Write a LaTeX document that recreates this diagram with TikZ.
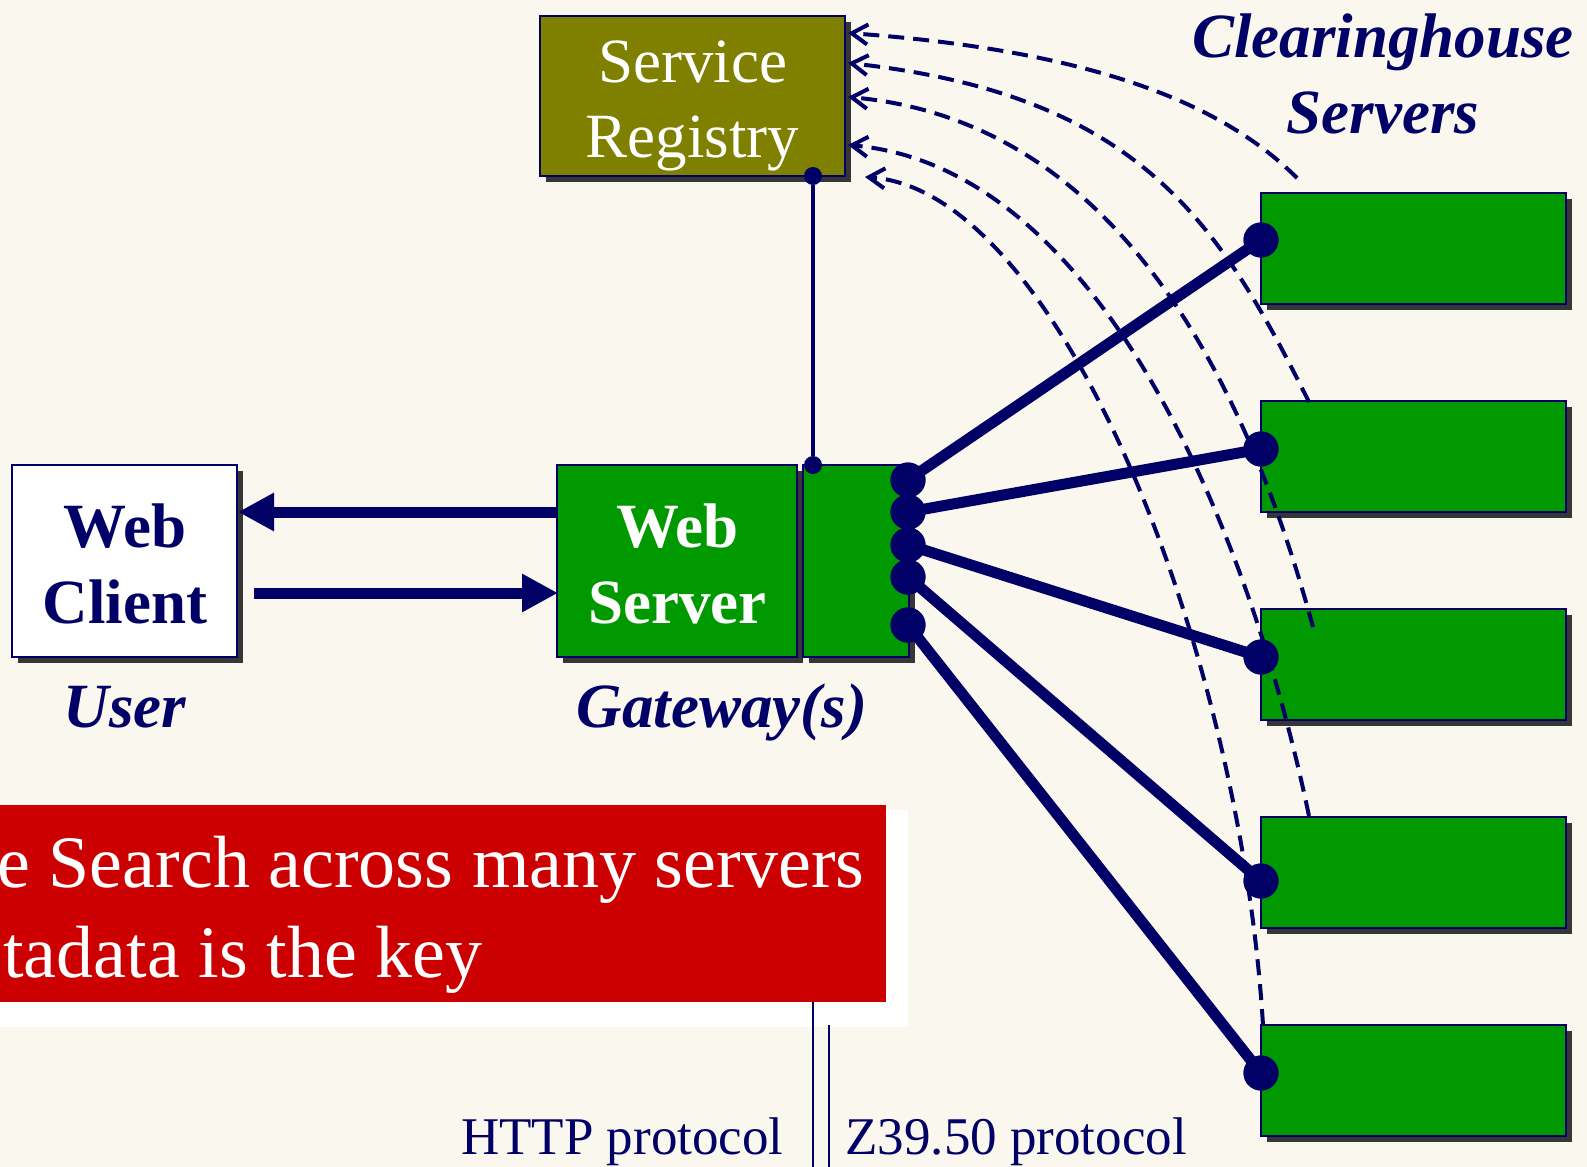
\documentclass[tikz,border=0pt]{standalone}
\usepackage{fontspec}
\setmainfont{Liberation Serif}
\usetikzlibrary{arrows.meta,shadows}

\definecolor{paper}{HTML}{F9F7EE}
\definecolor{navy}{HTML}{000066}
\definecolor{regolive}{HTML}{808000}
\definecolor{srvgreen}{HTML}{009900}
\definecolor{bannerred}{HTML}{CC0000}
\definecolor{shade}{HTML}{363636}

\begin{document}
\begin{tikzpicture}[x=0.5pt,y=-0.5pt,
  box/.style={draw=navy, line width=1pt, inner sep=0pt,
    drop shadow={shadow xshift=3pt, shadow yshift=-3pt, fill=shade, opacity=1}},
  regbox/.style={box, fill=regolive, minimum width=152.5pt, minimum height=80pt},
  clientbox/.style={box, fill=white, minimum width=112.5pt, minimum height=96pt},
  srvbox/.style={box, fill=srvgreen, minimum width=152.5pt, minimum height=55.5pt},
  bigdot/.style={circle, fill=navy, inner sep=0pt, minimum size=17.5pt},
  pin/.style={circle, fill=navy, inner sep=0pt, minimum size=9pt},
  link/.style={draw=navy, line width=5.5pt},
  flow/.style={draw=navy, line width=5.5pt, -{Triangle[length=18pt,width=18pt]}},
  lookup/.style={draw=navy, line width=2pt, dash pattern=on 8pt off 4.5pt,
    -{Straight Barb[length=8pt,width=10pt]}},
  boxtext/.style={anchor=base, inner sep=0pt, text=white,
    font={\fontsize{31.5}{37}\selectfont}},
  boldtext/.style={boxtext, font={\fontsize{31.5}{37}\selectfont\bfseries}},
  caption/.style={anchor=base, inner sep=0pt, text=navy,
    font={\fontsize{31.5}{37}\selectfont\bfseries\itshape}},
  bannertext/.style={anchor=base west, inner sep=0pt, text=white,
    font={\fontsize{37}{44}\selectfont}},
  protocol/.style={inner sep=0pt, text=navy, font={\fontsize{26.5}{32}\selectfont}}
]
% canvas
\useasboundingbox (0,0) rectangle (1587,1167);
\fill[paper] (0,0) rectangle (1587,1167);

% banner panel with its white backing
\fill[white] (-5,810) rectangle (908,1027);
\coordinate (div1top) at (813,1002);
\coordinate (div1bot) at (813,1167);
\coordinate (div2top) at (829,1025);
\coordinate (div2bot) at (829,1167);
\draw[navy, line width=1pt] (div1top) -- (div1bot);
\draw[navy, line width=1pt] (div2top) -- (div2bot);
\fill[bannerred] (-5,805) rectangle (886,1002);
\node[bannertext] (ban1) at (-3,887) {e Search across many servers};
\node[bannertext] (ban2) at (3,977) {tadata is the key};

% boxes
\node[regbox] (reg) at (692.5,96) {};
\node[clientbox] (wc) at (124.5,561) {};
\node[box, fill=srvgreen, minimum width=120pt, minimum height=96pt] (ws) at (677,561) {};
\node[box, fill=srvgreen, minimum width=53pt, minimum height=96pt] (gw) at (856,561) {};
\node[srvbox] (s1) at (1413.5,248.5) {};
\node[srvbox] (s2) at (1413.5,456.5) {};
\node[srvbox] (s3) at (1413.5,664.5) {};
\node[srvbox] (s4) at (1413.5,872.5) {};
\node[srvbox] (s5) at (1413.5,1080.5) {};

% registry lookups, from each clearinghouse server back to the registry
\coordinate (t1) at (848,33);
\coordinate (t2) at (848,63);
\coordinate (t3) at (848,97);
\coordinate (t4) at (848,145);
\coordinate (t5) at (865,177);
\coordinate (e1) at (1297,178);
\coordinate (e2) at (1309,402);
\coordinate (e3) at (1313,627);
\coordinate (e4) at (1309,816);
\coordinate (e5) at (1263,1025);
\draw[lookup] (e1) .. controls (1217,98) and (1080,50) .. (t1);
\draw[lookup] (e2) .. controls (1219,222) and (1140,95) .. (t2);
\draw[lookup] (e3) .. controls (1253,407) and (1130,122) .. (t3);
\draw[lookup] (e4) .. controls (1255,556) and (1110,168) .. (t4);
\draw[lookup] (e5) .. controls (1240,650) and (1060,190) .. (t5);

% registry to gateway
\node[pin] (rpin) at (813,176) {};
\node[pin] (gpin) at (813,465) {};
\draw[navy, line width=1.75pt] (rpin) -- (gpin);

% client <-> web server
\draw[flow] ([yshift=24.5pt]ws.west) -- ([yshift=24.5pt]wc.east);
\draw[flow] ([xshift=8pt,yshift=-16pt]wc.east) -- ([xshift=1pt,yshift=-16pt]ws.west);

% gateway to clearinghouse servers
\node[bigdot] (g1) at (908,480) {};
\node[bigdot] (g2) at (908,512) {};
\node[bigdot] (g3) at (908,545) {};
\node[bigdot] (g4) at (908,577) {};
\node[bigdot] (g5) at (908,625) {};
\node[bigdot] (c1) at (1261,240) {};
\node[bigdot] (c2) at (1261,449) {};
\node[bigdot] (c3) at (1261,657) {};
\node[bigdot] (c4) at (1261,881) {};
\node[bigdot] (c5) at (1261,1073) {};
\draw[link] (g1.center) -- (c1.center);
\draw[link] (g2.center) -- (c2.center);
\draw[link] (g3.center) -- (c3.center);
\draw[link] (g4.center) -- (c4.center);
\draw[link] (g5.center) -- (c5.center);
% dot caps over the line ends
\foreach \d in {g1,g2,g3,g4,g5,c1,c2,c3,c4,c5}
  \fill[navy] (\d) circle (8.75pt);

% texts
\node[boxtext] (reg1) at (692.5,83) {Service};
\node[boxtext] (reg2) at (692.5,157) {Registry};
\node[boldtext, text=navy] (wc1) at (125,547) {Web};
\node[boldtext, text=navy] (wc2) at (125,623) {Client};
\node[boldtext] (ws1) at (677.5,547) {Web};
\node[boldtext] (ws2) at (677.5,623) {Server};
\node[caption] (user) at (125,727) {User};
\node[caption] (gwlabel) at (722,727) {Gateway(s)};
\node[caption] (ch1) at (1383,57) {Clearinghouse};
\node[caption] (ch2) at (1383,133) {Servers};
\node[protocol, anchor=base east] (http) at (784,1154) {HTTP protocol};
\node[protocol, anchor=base west] (z3950) at (845,1154) {Z39.50 protocol};
\end{tikzpicture}
\end{document}
